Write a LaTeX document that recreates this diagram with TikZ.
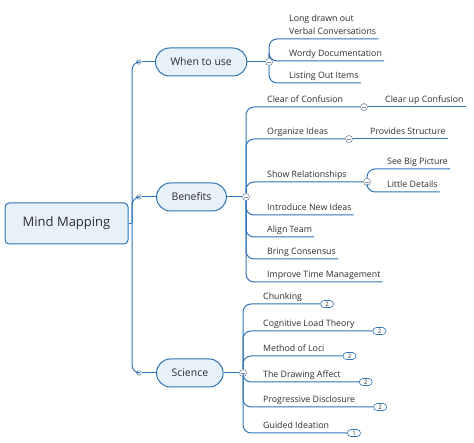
\documentclass[tikz,border=0pt]{standalone}
\usepackage{fontspec}
\setmainfont{Open Sans}
\usepackage{tikz}
\usetikzlibrary{positioning, calc}
\definecolor{mapblue}{RGB}{46, 116, 181}
\definecolor{mapfill}{RGB}{232, 241, 250}
\definecolor{mapgray}{RGB}{120, 140, 160}
\definecolor{maptext}{RGB}{45, 45, 45}

\begin{document}
\begin{tikzpicture}[x=1pt, y=-1pt,
  link/.style={draw=mapblue, line width=1pt, rounded corners=8pt},
  topic/.style={draw=mapblue, fill=mapfill, line width=1pt, rounded corners=14pt, minimum height=28pt, inner xsep=15pt, anchor=west, text=maptext, font=\fontsize{10.5}{12}\selectfont},
  leaf/.style={anchor=south west, inner xsep=2pt, inner ysep=4.5pt, text depth=0pt, align=left, text=maptext, font=\fontsize{8.8}{12.5}\selectfont},
  fold/.style={circle, draw=mapgray, fill=white, line width=0.6pt, minimum size=7pt, inner sep=0pt,
    path picture={\draw[mapgray, line width=0.6pt] ([xshift=1.6pt]path picture bounding box.west) -- ([xshift=-1.6pt]path picture bounding box.east);}},
  dot/.style={circle, draw=mapgray, fill=white, line width=0.6pt, minimum size=4.5pt, inner sep=0pt},
  badge/.style={draw=mapblue, fill=white, line width=0.6pt, rounded corners=3.5pt, minimum width=13pt, minimum height=7pt, inner sep=0pt, text=maptext, font=\fontsize{6}{6}\selectfont}
]
  \useasboundingbox (0,0) rectangle (474,443);

  % main topic and trunk
  \node[draw=mapblue, fill=mapfill, line width=1pt, rounded corners=4pt, minimum width=123pt, minimum height=41pt, text=maptext, font=\fontsize{13}{15}\selectfont] (root) at (66.5,223.5) {Mind Mapping};
  \coordinate (hub) at (132,223.5);
  \node[dot] (d1) at (139,62) {};
  \node[dot] (d2) at (139,197) {};
  \node[dot] (d3) at (139,373) {};
  \node[topic] (use) at (155,62) {When to use};
  \node[topic] (ben) at (156,197) {Benefits};
  \node[topic] (sci) at (156,373) {Science};
  \draw[link] (root) -- (hub);
  \foreach \d/\t in {d1/use, d2/ben, d3/sci} {
    \draw[link] (hub) |- (\d);
    \draw[link] (\d) -- (\t);
  }

  % when to use
  \node[fold] (fu) at (269,62) {};
  \draw[link] (use) -- (fu);
  \node[leaf] (u1) at (287,39) {Long drawn out\\Verbal Conversations};
  \node[leaf] (u2) at (287,61) {Wordy Documentation};
  \node[leaf] (u3) at (287,83) {Listing Out Items};
  \foreach \i in {1,2,3}
    \draw[link] (fu) |- (u\i.south east);

  % benefits
  \node[fold] (fb) at (246,197) {};
  \draw[link] (ben) -- (fb);
  \node[leaf] (b1) at (265,107) {Clear of Confusion};
  \node[leaf] (b2) at (265,139) {Organize Ideas};
  \node[leaf] (b3) at (265,182) {Show Relationships};
  \node[leaf] (b4) at (265,215) {Introduce New Ideas};
  \node[leaf] (b5) at (265,237) {Align Team};
  \node[leaf] (b6) at (265,259) {Bring Consensus};
  \node[leaf] (b7) at (265,282) {Improve Time Management};
  \node[fold] (f1) at (364,107) {};
  \node[fold] (f2) at (349,139) {};
  \node[fold] (f3) at (367,182) {};
  \foreach \i in {1,2,3}
    \draw[link] (fb) |- (f\i);
  \foreach \i in {4,...,7}
    \draw[link] (fb) |- (b\i.south east);
  \node[leaf] (c1) at (383,107) {Clear up Confusion};
  \node[leaf] (c2) at (368,139) {Provides Structure};
  \node[leaf] (c3) at (385,169) {See Big Picture};
  \node[leaf] (c4) at (385,192) {Little Details};
  \draw[link] (f1) -- (c1.south east);
  \draw[link] (f2) -- (c2.south east);
  \draw[link] (f3) |- (c3.south east);
  \draw[link] (f3) |- (c4.south east);

  % science
  \node[fold] (fs) at (243,373) {};
  \draw[link] (sci) -- (fs);
  \foreach \i/\y/\t/\k in {1/304/Chunking/2, 2/331/Cognitive Load Theory/2, 3/356/Method of Loci/2,
      4/382/The Drawing Affect/2, 5/407/Progressive Disclosure/2, 6/433/Guided Ideation/1} {
    \node[leaf] (s\i) at (261,\y) {\t};
    \node[badge, right=16pt of s\i.south east] (k\i) {\k};
    \draw[link] (fs) |- (k\i);
  }
\end{tikzpicture}
\end{document}
